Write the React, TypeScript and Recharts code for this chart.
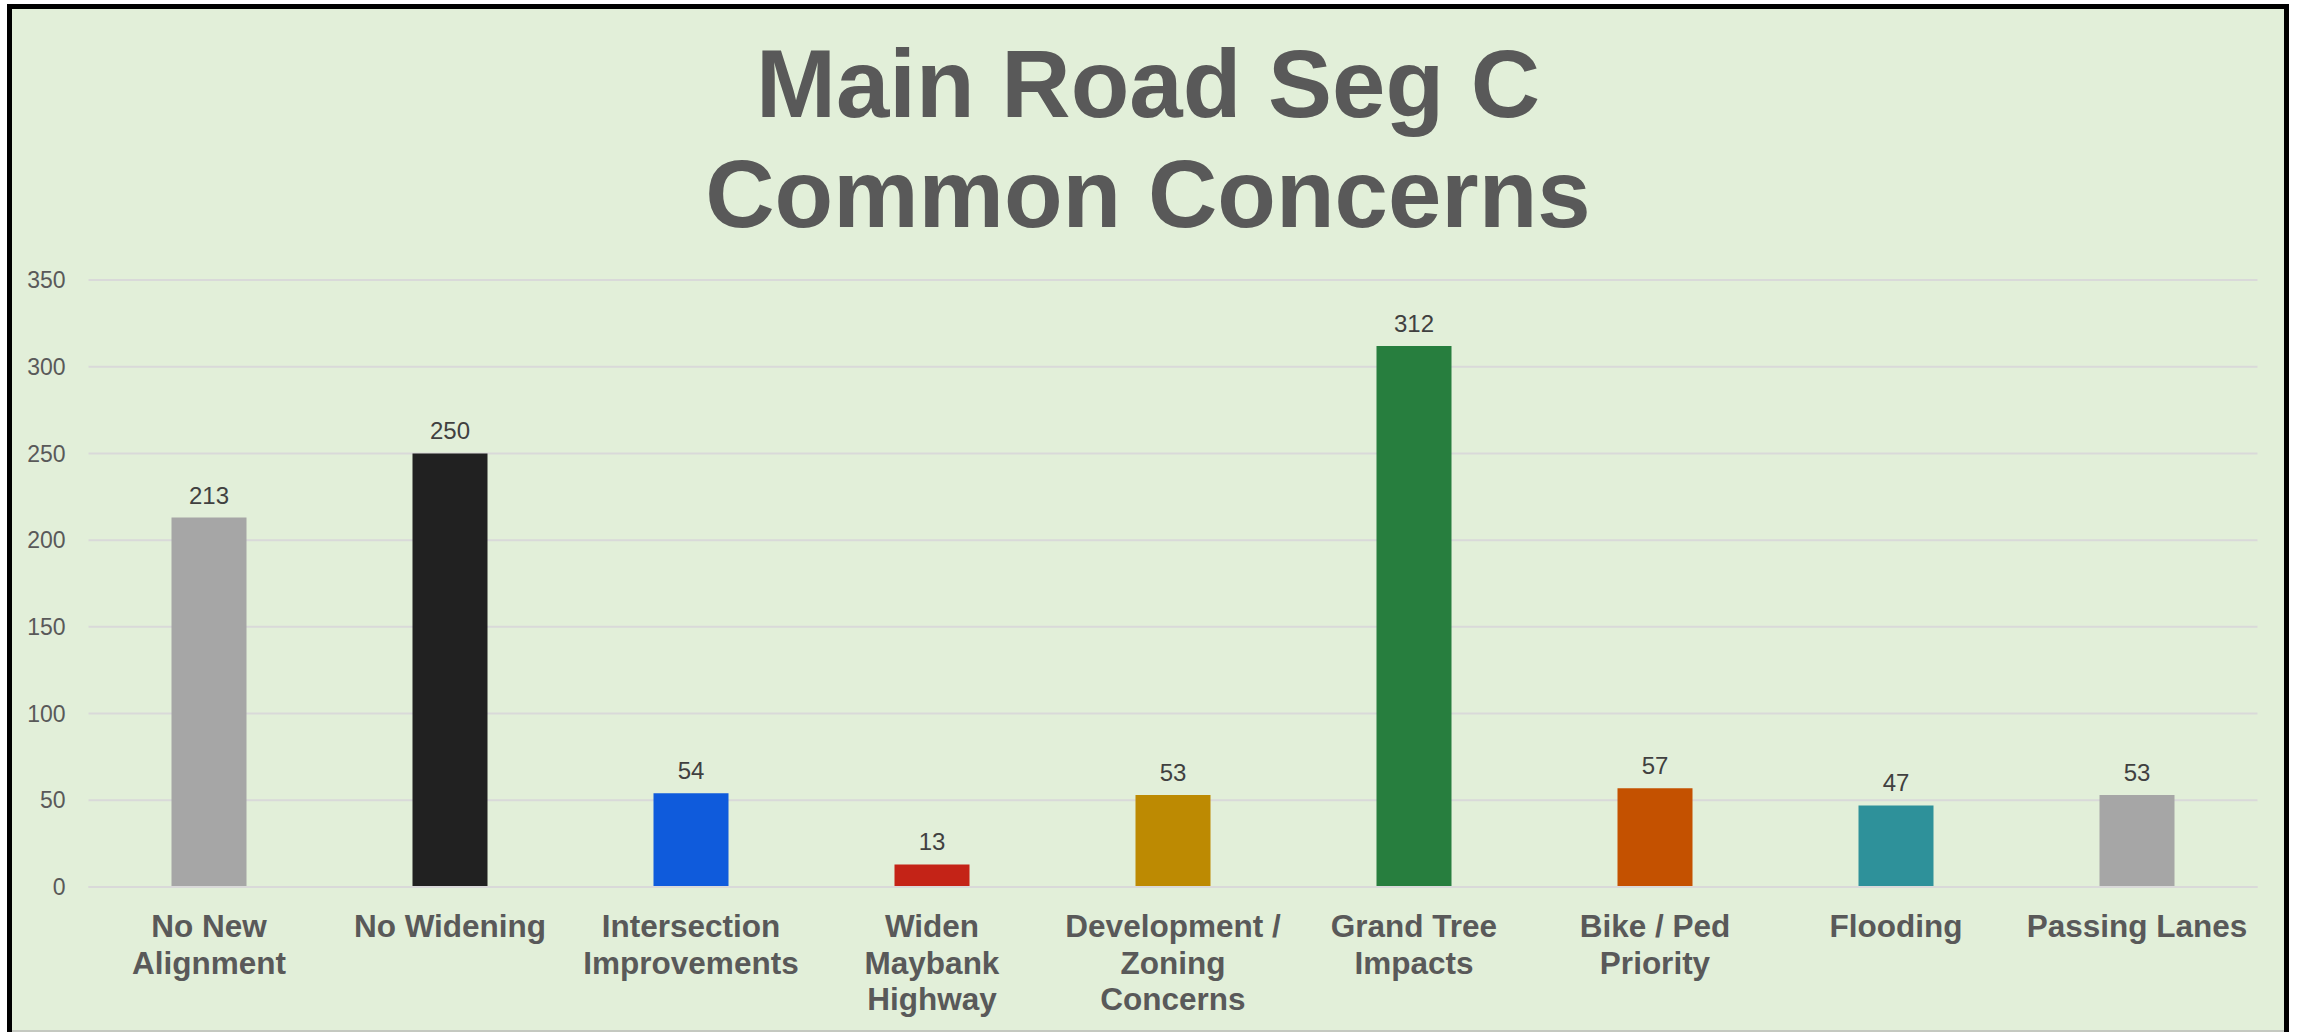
import { BarChart, Bar, XAxis, YAxis, CartesianGrid, Cell, LabelList } from "recharts";

// ─── Data ─────────────────────────────────────────────────────────────────────

const categories = [
  "No New\nAlignment",
  "No Widening",
  "Intersection\nImprovements",
  "Widen\nMaybank\nHighway",
  "Development /\nZoning\nConcerns",
  "Grand Tree\nImpacts",
  "Bike / Ped\nPriority",
  "Flooding",
  "Passing Lanes",
];

const concernCounts = [213, 250, 54, 13, 53, 312, 57, 47, 53];

const barColors = [
  "#a6a6a6",
  "#212121",
  "#0f5bdc",
  "#c42317",
  "#bd8a02",
  "#277e3e",
  "#c45100",
  "#2e919a",
  "#a6a6a6",
];

const yTicks = [0, 50, 100, 150, 200, 250, 300, 350];

const titleLines = ["Main Road Seg C", "Common Concerns"];

const FONT = '"Liberation Sans", Arial, Helvetica, sans-serif';

// ─── Multi-line category tick ─────────────────────────────────────────────────

function CategoryTick({ x, y, payload }: { x?: number; y?: number; payload?: { value: string } }) {
  const lines = (payload?.value ?? "").split("\n");
  return (
    <text
      x={x}
      y={(y ?? 0) + 50}
      textAnchor="middle"
      fill="#595959"
      fontFamily={FONT}
      fontWeight="bold"
      fontSize={31.5}
    >
      {lines.map((line, i) => (
        <tspan key={i} x={x} dy={i === 0 ? 0 : 36.5}>
          {line}
        </tspan>
      ))}
    </text>
  );
}

// ─── Main component ───────────────────────────────────────────────────────────

export default function App() {
  const chartData = categories.map((name, i) => ({
    name,
    value: concernCounts[i],
  }));

  return (
    <div
      style={{
        position: "fixed",
        left: 0,
        top: 0,
        width: 2300,
        height: 1032,
        overflow: "hidden",
        background: "#ffffff",
      }}
    >
      <div
        style={{
          position: "absolute",
          left: 7,
          top: 4,
          width: 2282,
          height: 1060,
          border: "5px solid #000",
          boxSizing: "border-box",
          background: "#e2efd9",
        }}
      />
      <div
        style={{
          position: "absolute",
          left: 12,
          top: 1030,
          width: 2272,
          height: 2,
          background: "#c4c8c0",
        }}
      />
      <div
        style={{
          position: "absolute",
          left: 7,
          top: 29,
          width: 2282,
          textAlign: "center",
          fontFamily: FONT,
          fontWeight: "bold",
          fontSize: 96,
          lineHeight: "110px",
          color: "#595959",
        }}
      >
        {titleLines.map((t) => (
          <div key={t}>{t}</div>
        ))}
      </div>
      <div style={{ position: "absolute", left: 0, top: 0 }}>
        <BarChart
          width={2300}
          height={1032}
          data={chartData}
          margin={{ top: 280, right: 42.5, left: 0, bottom: 0 }}
        >
          <CartesianGrid vertical={false} stroke="#d9d9d9" strokeWidth={2} />
          <XAxis
            dataKey="name"
            interval={0}
            height={145}
            tickSize={0}
            tickMargin={0}
            axisLine={{ stroke: "#d9d9d9", strokeWidth: 2 }}
            tick={<CategoryTick />}
          />
          <YAxis
            width={88.5}
            domain={[0, 350]}
            ticks={yTicks}
            axisLine={false}
            tickLine={false}
            tickSize={0}
            tickMargin={23}
            tick={{ fontSize: 23, fill: "#595959", fontFamily: FONT }}
          />
          <Bar dataKey="value" barSize={75} isAnimationActive={false}>
            {chartData.map((d, i) => (
              <Cell key={d.name} fill={barColors[i]} />
            ))}
            <LabelList
              dataKey="value"
              position="top"
              offset={14}
              fill="#404040"
              fontSize={24}
              fontFamily={FONT}
            />
          </Bar>
        </BarChart>
      </div>
    </div>
  );
}
